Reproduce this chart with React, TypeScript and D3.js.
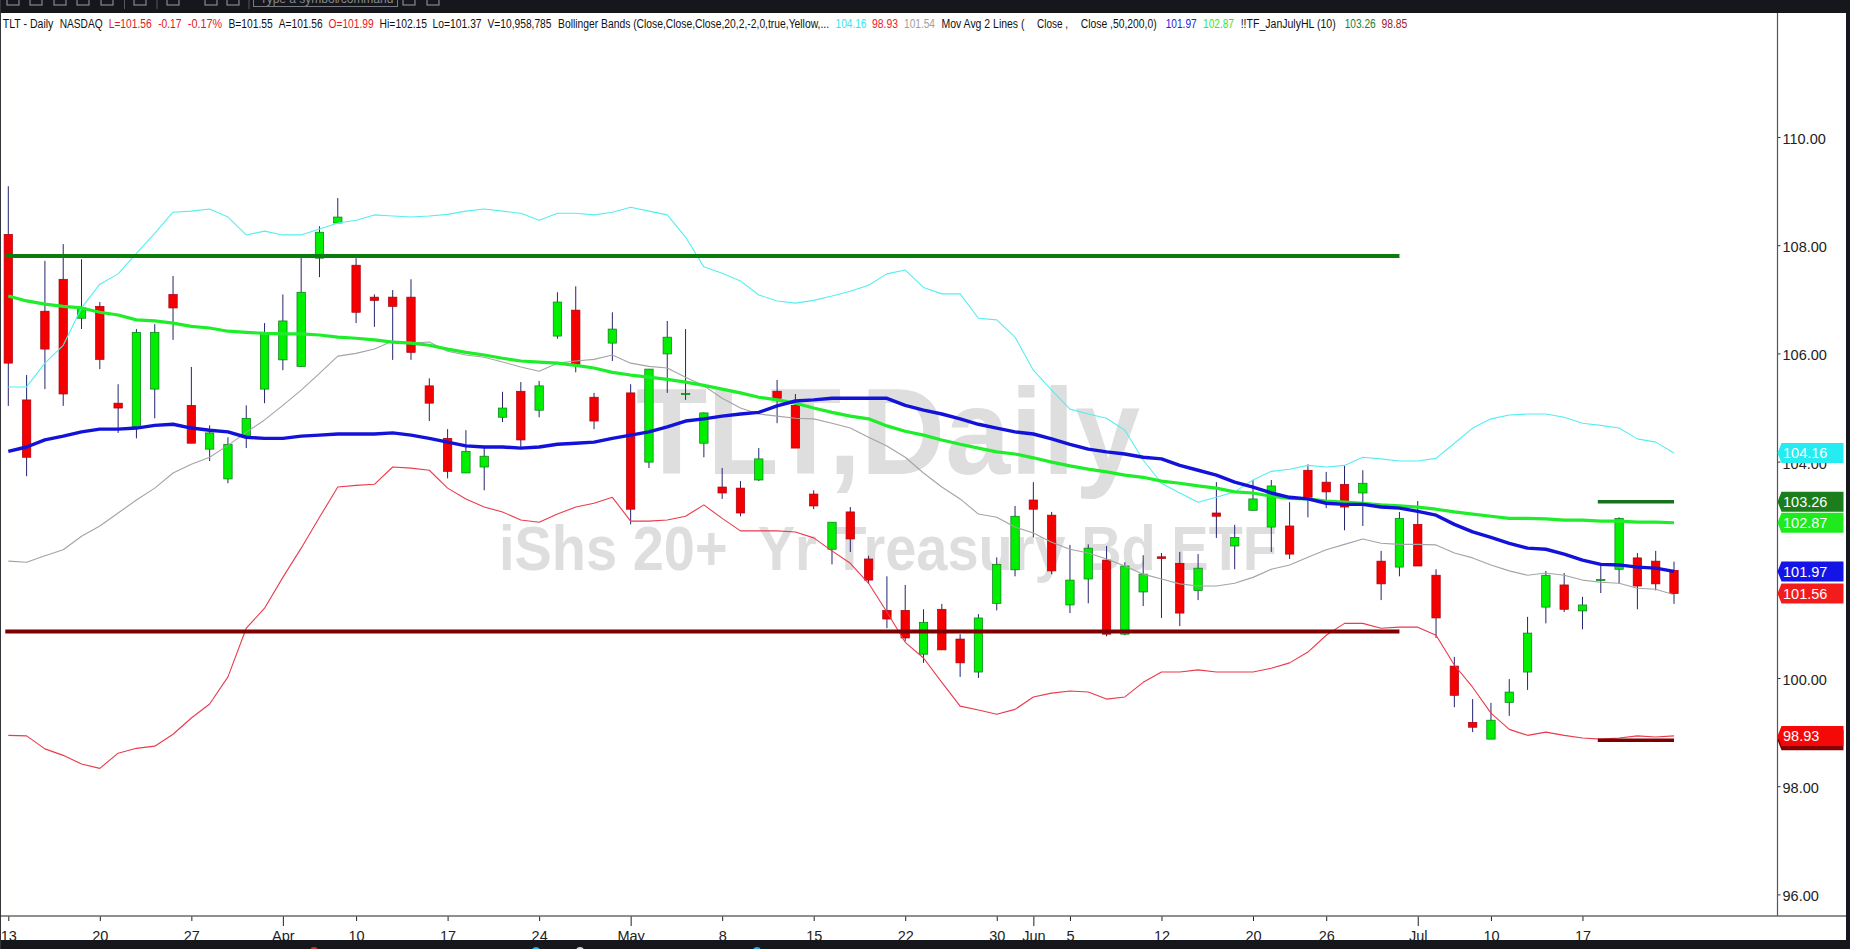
import {
  axisBottom,
  axisRight,
  format,
  line,
  scaleLinear,
  select,
} from 'd3';
import { useEffect, useRef } from 'react';

const width = 1850;
const height = 949;

// daily candles, oldest first
const opens = [
  108.2, 105.14, 106.78, 107.37, 106.65, 106.87, 105.08, 104.64, 105.34, 107.09,
  105.04, 104.23, 103.68, 104.45, 105.34, 105.88, 105.76, 107.76, 108.41, 107.63,
  107.04, 107.04, 107.04, 105.4, 104.43, 103.79, 103.9, 104.82, 105.3, 104.95,
  106.32, 106.8, 105.19, 106.19, 105.27, 103.99, 105.99, 105.24, 104.34, 103.53,
  103.51, 103.66, 105.3, 105.04, 103.4, 102.38, 103.07, 102.2, 101.25, 101.25,
  100.44, 101.27, 100.72, 100.11, 101.38, 102.0, 103.29, 103.01, 101.35, 101.83,
  102.18, 100.81, 101.59, 102.24, 102.12, 101.62, 103.05, 102.44, 103.1, 102.79,
  102.81, 103.84, 103.62, 103.58, 103.42, 102.16, 102.05, 102.84, 101.9, 100.22,
  99.18, 98.87, 99.55, 100.11, 101.31, 101.72, 101.24, 101.8, 102.01, 102.22,
  102.16, 101.99,
];
const closes = [
  105.82, 104.08, 106.08, 105.25, 106.84, 105.89, 104.99, 106.39, 106.39, 106.84,
  104.34, 104.53, 104.32, 104.8, 106.37, 106.6, 107.13, 108.24, 108.52, 106.76,
  106.98, 106.87, 106.02, 105.08, 103.82, 104.19, 104.1, 104.99, 104.4, 105.4,
  106.95, 105.8, 104.75, 106.45, 103.12, 105.71, 106.3, 105.26, 104.9, 103.42,
  103.05, 104.05, 105.17, 104.25, 103.18, 102.88, 102.57, 101.81, 101.09, 100.74,
  101.03, 100.52, 100.28, 101.11, 102.1, 102.99, 103.12, 101.98, 101.81, 102.4,
  100.81, 102.07, 101.92, 102.21, 101.2, 102.03, 102.99, 102.6, 103.31, 103.55,
  102.29, 103.34, 103.44, 103.16, 103.6, 101.74, 102.95, 102.07, 101.11, 99.68,
  99.09, 99.22, 99.74, 100.83, 101.9, 101.27, 101.35, 101.82, 102.95, 101.7,
  101.74, 101.56,
];
const highs = [
  109.09, 105.6, 107.71, 108.02, 107.74, 106.95, 105.43, 106.45, 106.54, 107.43,
  105.75, 104.67, 104.45, 105.04, 106.56, 107.09, 107.78, 108.35, 108.87, 107.76,
  107.09, 107.17, 107.37, 105.54, 104.6, 104.58, 104.25, 105.29, 105.47, 105.49,
  107.13, 107.24, 105.27, 106.76, 105.43, 105.71, 106.6, 106.45, 104.91, 103.88,
  103.64, 104.25, 105.51, 105.25, 103.47, 102.88, 103.16, 102.26, 101.88, 101.72,
  101.27, 101.37, 100.81, 101.18, 102.23, 103.18, 103.62, 103.07, 102.46, 102.47,
  102.44, 102.14, 102.27, 102.31, 102.33, 102.29, 103.62, 102.83, 103.66, 103.66,
  103.25, 103.95, 103.81, 103.93, 103.84, 102.35, 103.07, 103.27, 102.01, 100.39,
  99.61, 99.54, 99.98, 101.13, 101.98, 101.94, 101.5, 102.12, 102.97, 102.31,
  102.35, 102.15,
];
const lows = [
  105.03, 103.73, 105.34, 105.03, 106.45, 105.71, 104.53, 104.43, 104.8, 106.25,
  104.34, 104.01, 103.6, 104.25, 105.08, 105.69, 105.75, 107.41, 108.41, 106.56,
  106.49, 105.88, 105.88, 104.75, 103.69, 103.79, 103.47, 104.73, 104.25, 104.82,
  106.27, 105.65, 104.6, 105.86, 102.84, 103.88, 105.27, 105.14, 104.08, 103.31,
  102.99, 103.64, 104.71, 104.25, 103.12, 102.1, 102.33, 101.74, 100.92, 100.68,
  100.28, 100.52, 100.02, 100.0, 101.25, 101.88, 102.6, 101.92, 101.2, 101.38,
  100.77, 100.79, 101.33, 101.11, 100.96, 101.44, 102.59, 102.01, 103.1, 102.33,
  102.2, 102.97, 103.14, 102.73, 102.81, 101.44, 101.88, 102.07, 100.74, 99.46,
  99.0, 98.87, 99.3, 99.78, 101.01, 101.22, 100.9, 101.57, 101.74, 101.27,
  101.62, 101.37,
];

const bbUpper = [
  105.38, 105.38, 105.82, 106.15, 106.84, 107.28, 107.47, 107.85, 108.22, 108.61,
  108.63, 108.67, 108.52, 108.19, 108.26, 108.19, 108.19, 108.3, 108.41, 108.46,
  108.56, 108.54, 108.52, 108.54, 108.57, 108.63, 108.67, 108.63, 108.59, 108.46,
  108.59, 108.59, 108.56, 108.61, 108.7, 108.63, 108.56, 108.15, 107.6, 107.48,
  107.34, 107.08, 106.97, 106.93, 106.98, 107.06, 107.15, 107.26, 107.47, 107.54,
  107.22, 107.1, 107.1, 106.65, 106.62, 106.3, 105.69, 105.32, 104.97, 104.88,
  104.8, 104.58, 104.03, 103.6, 103.42, 103.25, 103.34, 103.44, 103.66, 103.82,
  103.86, 103.93, 103.9, 103.93, 104.08, 104.05, 104.01, 104.01, 104.06, 104.34,
  104.62, 104.79, 104.86, 104.88, 104.88, 104.82, 104.71, 104.67, 104.62, 104.42,
  104.36, 104.16,
];
const bbMiddle = [
  102.16, 102.14, 102.26, 102.37, 102.62, 102.81, 103.05, 103.29, 103.51, 103.79,
  103.95, 104.08, 104.3, 104.54, 104.77, 105.04, 105.32, 105.63, 105.95, 106.0,
  106.08, 106.23, 106.19, 106.21, 106.04, 105.97, 105.93, 105.84, 105.75, 105.67,
  105.82, 105.86, 105.89, 105.97, 105.82, 105.76, 105.73, 105.56, 105.4, 105.17,
  104.99, 104.88, 104.84, 104.8, 104.79, 104.71, 104.62, 104.45, 104.29, 104.08,
  103.79, 103.53, 103.31, 103.03, 102.97, 102.79, 102.68, 102.51, 102.38, 102.31,
  102.2, 102.07, 101.92, 101.83, 101.74, 101.7, 101.7, 101.75, 101.86, 102.01,
  102.09, 102.23, 102.37, 102.47, 102.57, 102.49, 102.47, 102.47, 102.46, 102.31,
  102.22, 102.09, 101.98, 101.9, 101.94, 101.9, 101.81, 101.77, 101.75, 101.66,
  101.64, 101.54,
];
const bbLower = [
  98.94, 98.93, 98.69, 98.57, 98.41, 98.33, 98.61, 98.7, 98.74, 98.96,
  99.26, 99.52, 100.02, 100.92, 101.29, 101.86, 102.4, 102.97, 103.53, 103.56,
  103.58, 103.9, 103.88, 103.84, 103.51, 103.31, 103.16, 103.07, 102.92, 102.88,
  103.03, 103.16, 103.23, 103.34, 102.9, 102.9, 102.92, 102.99, 103.2, 102.95,
  102.72, 102.72, 102.72, 102.7, 102.59, 102.35, 102.12, 101.75, 101.22, 100.66,
  100.37, 99.92, 99.48, 99.41, 99.33, 99.42, 99.65, 99.72, 99.76, 99.74,
  99.61, 99.65, 99.92, 100.11, 100.11, 100.15, 100.11, 100.11, 100.11, 100.18,
  100.28, 100.48, 100.79, 101.01, 101.01, 100.92, 100.94, 100.94, 100.79, 100.24,
  99.83, 99.35, 99.05, 98.94, 99.0, 98.94, 98.89, 98.87, 98.89, 98.93,
  98.91, 98.93,
];
const ma50 = [
  104.19, 104.27, 104.4, 104.47, 104.55, 104.6, 104.6, 104.62, 104.67, 104.69,
  104.62, 104.58, 104.55, 104.45, 104.43, 104.43, 104.47, 104.49, 104.51, 104.51,
  104.51, 104.53, 104.49, 104.43, 104.36, 104.29, 104.27, 104.27, 104.25, 104.27,
  104.32, 104.34, 104.36, 104.43, 104.49, 104.55, 104.64, 104.75, 104.79, 104.84,
  104.88, 104.91, 105.03, 105.12, 105.14, 105.17, 105.17, 105.17, 105.17, 105.04,
  104.95, 104.88, 104.79, 104.69, 104.62, 104.55, 104.51, 104.42, 104.32, 104.23,
  104.18, 104.14, 104.08, 104.05, 103.93, 103.84, 103.75, 103.62, 103.53, 103.42,
  103.34, 103.31, 103.23, 103.21, 103.21, 103.16, 103.14, 103.08, 103.01, 102.84,
  102.7, 102.6, 102.49, 102.4, 102.38, 102.29, 102.18, 102.1, 102.09, 102.05,
  102.03, 101.97,
];
const ma200 = [
  107.06, 106.97, 106.91, 106.87, 106.84, 106.76, 106.71, 106.62, 106.6, 106.56,
  106.5, 106.47, 106.41, 106.39, 106.37, 106.36, 106.36, 106.34, 106.3, 106.28,
  106.25, 106.21, 106.19, 106.15, 106.08, 106.02, 105.97, 105.91, 105.86, 105.84,
  105.82, 105.78, 105.73, 105.65, 105.6, 105.56, 105.52, 105.47, 105.41, 105.34,
  105.27, 105.19, 105.14, 105.08, 104.99, 104.91, 104.84, 104.79, 104.66, 104.56,
  104.49, 104.4, 104.32, 104.25, 104.18, 104.14, 104.07, 103.99, 103.92, 103.86,
  103.81, 103.75, 103.71, 103.64, 103.6, 103.55, 103.51, 103.44, 103.42, 103.36,
  103.32, 103.31, 103.27, 103.25, 103.23, 103.2, 103.18, 103.16, 103.12, 103.07,
  103.03, 102.99, 102.95, 102.95, 102.94, 102.92, 102.92, 102.9, 102.9, 102.88,
  102.88, 102.87,
];

const priceTicks = [110, 108, 106, 104, 102, 100, 98, 96];
const dateTickBars = [0, 5, 10, 15, 19, 24, 29, 34, 39, 44, 49, 54, 56, 58, 63, 68, 72, 77, 81, 86];
const dateTickLabels = ['13', '20', '27', 'Apr', '10', '17', '24', 'May', '8', '15', '22', '30', 'Jun', '5', '12', '20', '26', 'Jul', '10', '17'];
const monthLabels = ['Apr', 'May', 'Jun', 'Jul'];

// January / July high-low levels
const hlLevels = [
  { price: 107.8, from: 0, to: 76, color: '#0a7d0a', w: 4 },
  { price: 100.86, from: 0, to: 76, color: '#7d0000', w: 4 },
  { price: 103.26, from: 87, to: 91, color: '#17701c', w: 3.5 },
  { price: 98.85, from: 87, to: 91, color: '#7d0000', w: 3.5 },
];

const badges = [
  { value: 104.16, color: '#24ecf0' },
  { value: 103.26, color: '#1c7d1c' },
  { value: 102.87, color: '#1eea1e' },
  { value: 101.97, color: '#1414e6' },
  { value: 101.56, color: '#f21c1c' },
  { value: 98.85, color: '#8a0000' },
  { value: 98.93, color: '#f40808' },
];

const headerBits: [string, number, number, string][] = [
  ['TLT - Daily', 2.8, 50.6, '#111'],
  ['NASDAQ', 59.7, 43, '#111'],
  ['L=101.56', 108.7, 43, '#e8141c'],
  ['-0.17', 158.2, 23.3, '#e8141c'],
  ['-0.17%', 187.8, 34.4, '#e8141c'],
  ['B=101.55', 228.5, 44.3, '#111'],
  ['A=101.56', 278.8, 43.9, '#111'],
  ['O=101.99', 328.6, 45, '#e8141c'],
  ['Hi=102.15', 379.6, 47.4, '#111'],
  ['Lo=101.37', 432.6, 49, '#111'],
  ['V=10,958,785', 487.5, 64, '#111'],
  ['Bollinger Bands (Close,Close,Close,20,2,-2,0,true,Yellow,...', 558, 271, '#111'],
  ['104.16', 835.5, 31, '#30e8ee'],
  ['98.93', 872, 26, '#ee2030'],
  ['101.54', 904, 31, '#a0a0a0'],
  ['Mov Avg 2 Lines (', 941.5, 83, '#111'],
  ['Close ,', 1037, 31, '#111'],
  ['Close ,50,200,0)', 1080.7, 76, '#111'],
  ['101.97', 1165.7, 31, '#2222dd'],
  ['102.87', 1203, 31, '#30e830'],
  ['!!TF_JanJulyHL (10)', 1240.7, 95, '#111'],
  ['103.26', 1344.7, 31, '#1c7d30'],
  ['98.85', 1381.4, 26, '#a02028'],
];

const toolbarIcons = [13, 36, 60, 83, 107, 140, 173, 211, 233, 409, 433];
const toolbarSeparators = [124.5, 157, 249];
const taskbarDots: [number, string][] = [
  [314, '#c0392b'],
  [536, '#3aa0e0'],
  [580, '#d8d8d8'],
  [757, '#3aa0e0'],
];

const sans = '"Liberation Sans", Arial, sans-serif';

export default function App() {
  const svgRef = useRef<SVGSVGElement>(null);

  useEffect(() => {
    if (!svgRef.current) return;
    const svg = select(svgRef.current);

    const axisX = 1777.5;
    const axisY = 916;
    const x = scaleLinear().domain([0, 91]).range([8.3, 1674]);
    const y = scaleLinear().domain([110, 96]).range([137, 894.4]);

    svg.append('rect').attr('width', width).attr('height', height).attr('fill', '#fff');

    // symbol watermark sits behind everything
    svg
      .append('text')
      .attr('x', 636)
      .attr('y', 474)
      .attr('textLength', 504)
      .attr('lengthAdjust', 'spacingAndGlyphs')
      .attr('font-family', sans)
      .attr('font-weight', 700)
      .attr('font-size', 122)
      .attr('fill', '#dedede')
      .text('TLT,Daily');
    svg
      .append('text')
      .attr('x', 499)
      .attr('y', 570)
      .attr('textLength', 778)
      .attr('lengthAdjust', 'spacingAndGlyphs')
      .attr('font-family', sans)
      .attr('font-weight', 700)
      .attr('font-size', 63)
      .attr('fill', '#dedede')
      .attr('xml:space', 'preserve')
      .style('white-space', 'pre')
      .text('iShs 20+  Yr Treasury Bd ETF');

    const bars = opens.map((open, i) => ({
      i,
      open,
      close: closes[i],
      high: highs[i],
      low: lows[i],
      up: closes[i] >= open,
    }));
    const candles = svg.append('g');
    candles
      .selectAll('line')
      .data(bars)
      .join('line')
      .attr('x1', (d) => x(d.i))
      .attr('x2', (d) => x(d.i))
      .attr('y1', (d) => y(d.high))
      .attr('y2', (d) => y(d.low))
      .attr('stroke', '#24246e')
      .attr('stroke-width', 1);
    candles
      .selectAll('rect')
      .data(bars)
      .join('rect')
      .attr('x', (d) => x(d.i) - 4.2)
      .attr('width', 8.4)
      .attr('y', (d) => y(Math.max(d.open, d.close)))
      .attr('height', (d) => Math.max(1, Math.abs(y(d.open) - y(d.close))))
      .attr('fill', (d) => (d.up ? '#00ee00' : '#f40000'))
      .attr('stroke', (d) => (d.up ? '#0b7a1a' : '#a80010'))
      .attr('stroke-width', 0.7);

    const path = line<number>()
      .x((_, i) => x(i))
      .y((d) => y(d));
    const drawLine = (values: number[], color: string, w: number) =>
      svg
        .append('path')
        .datum(values)
        .attr('fill', 'none')
        .attr('d', path)
        .attr('stroke', color)
        .attr('stroke-width', w)
        .attr('stroke-linejoin', 'round');
    drawLine(bbMiddle, '#a4a4a4', 1.1);
    drawLine(bbUpper, '#55eef0', 1.1);
    drawLine(bbLower, '#ea3a4c', 1.1);
    drawLine(ma200, '#1eee2a', 3.2);
    drawLine(ma50, '#1212d8', 3.4);

    svg
      .append('g')
      .selectAll('line')
      .data(hlLevels)
      .join('line')
      .attr('x1', (d) => x(d.from) - 3)
      .attr('x2', (d) => x(d.to))
      .attr('y1', (d) => y(d.price))
      .attr('y2', (d) => y(d.price))
      .attr('stroke', (d) => d.color)
      .attr('stroke-width', (d) => d.w);

    // price axis
    const priceAxis = svg
      .append('g')
      .attr('transform', `translate(${axisX},0)`)
      .call(
        axisRight(y)
          .tickValues(priceTicks)
          .tickFormat((d) => format('.2f')(d as number))
          .tickSize(3)
          .tickPadding(2),
      );
    priceAxis.select('.domain').remove();
    priceAxis.selectAll('line').attr('stroke', '#333');
    priceAxis
      .selectAll('text')
      .attr('font-family', sans)
      .attr('font-size', 14.5)
      .attr('fill', '#222')
      .attr('dy', '0.45em');
    svg
      .append('line')
      .attr('x1', axisX)
      .attr('x2', axisX)
      .attr('y1', 13)
      .attr('y2', axisY)
      .attr('stroke', '#555')
      .attr('stroke-width', 1.2);

    // date axis
    const dateAxis = svg
      .append('g')
      .attr('transform', `translate(0,${axisY})`)
      .call(
        axisBottom(x)
          .tickValues(dateTickBars)
          .tickFormat((_, i) => dateTickLabels[i])
          .tickSize(5)
          .tickPadding(8),
      );
    dateAxis.select('.domain').remove();
    dateAxis.selectAll('.tick line').attr('stroke', '#222');
    dateAxis
      .selectAll<SVGLineElement, number>('.tick line')
      .attr('y2', (_, i) => (monthLabels.includes(dateTickLabels[i]) ? 10 : 5));
    dateAxis
      .selectAll('text')
      .attr('font-family', sans)
      .attr('font-size', 14.5)
      .attr('fill', '#222')
      .attr('y', 10)
      .attr('dy', '1em');
    svg
      .append('line')
      .attr('x1', 0)
      .attr('x2', 1846)
      .attr('y1', axisY)
      .attr('y2', axisY)
      .attr('stroke', '#6a6a6a')
      .attr('stroke-width', 1.4);

    // last value tags on the price axis
    const tagHalf = 10;
    const tags = svg
      .append('g')
      .selectAll('g')
      .data(badges)
      .join('g')
      .attr('transform', (d) => `translate(${axisX},${y(d.value)})`);
    tags
      .append('path')
      .attr('d', `M0,0L4,${-tagHalf}H66V${tagHalf}H4Z`)
      .attr('fill', (d) => d.color);
    tags
      .append('text')
      .attr('x', 5.5)
      .attr('y', 5.5)
      .attr('font-family', sans)
      .attr('font-size', 14.5)
      .attr('fill', '#fff')
      .text((d) => format('.2f')(d.value));

    // header line
    svg
      .append('g')
      .selectAll('text')
      .data(headerBits)
      .join('text')
      .attr('x', (d) => d[1])
      .attr('y', 27.5)
      .attr('textLength', (d) => d[2])
      .attr('lengthAdjust', 'spacingAndGlyphs')
      .attr('font-family', sans)
      .attr('font-size', 12.5)
      .attr('fill', (d) => d[3])
      .text((d) => d[0]);

    // window chrome
    const chrome = '#15171d';
    svg.append('rect').attr('width', width).attr('height', 13).attr('fill', chrome);
    svg.append('rect').attr('y', 940).attr('width', width).attr('height', 9).attr('fill', chrome);
    svg.append('rect').attr('x', 1846).attr('width', 4).attr('height', height).attr('fill', chrome);
    svg.append('rect').attr('width', 1).attr('height', height).attr('fill', '#33353a');

    svg
      .append('g')
      .selectAll('rect')
      .data(toolbarIcons)
      .join('rect')
      .attr('x', (d) => d - 6)
      .attr('y', -4)
      .attr('width', 12)
      .attr('height', 9)
      .attr('fill', 'none')
      .attr('stroke', '#9a9ea4')
      .attr('stroke-width', 1);
    svg
      .append('g')
      .selectAll('line')
      .data(toolbarSeparators)
      .join('line')
      .attr('x1', (d) => d)
      .attr('x2', (d) => d)
      .attr('y1', 0)
      .attr('y2', 9)
      .attr('stroke', '#55585e');
    svg
      .append('rect')
      .attr('x', 253.5)
      .attr('y', -6)
      .attr('width', 144)
      .attr('height', 12.5)
      .attr('fill', 'none')
      .attr('stroke', '#777a80');
    svg
      .append('text')
      .attr('x', 260)
      .attr('y', 3)
      .attr('font-family', sans)
      .attr('font-size', 12)
      .attr('fill', '#85888e')
      .text('Type a symbol/command');

    svg
      .append('g')
      .selectAll('circle')
      .data(taskbarDots)
      .join('circle')
      .attr('cx', (d) => d[0])
      .attr('cy', 951)
      .attr('r', 4)
      .attr('fill', (d) => d[1]);

    return () => {
      svg.selectAll('*').remove();
    };
  }, []);

  return (
    <svg
      ref={svgRef}
      width={width}
      height={height}
      style={{ position: 'absolute', top: 0, left: 0, display: 'block' }}
    />
  );
}
